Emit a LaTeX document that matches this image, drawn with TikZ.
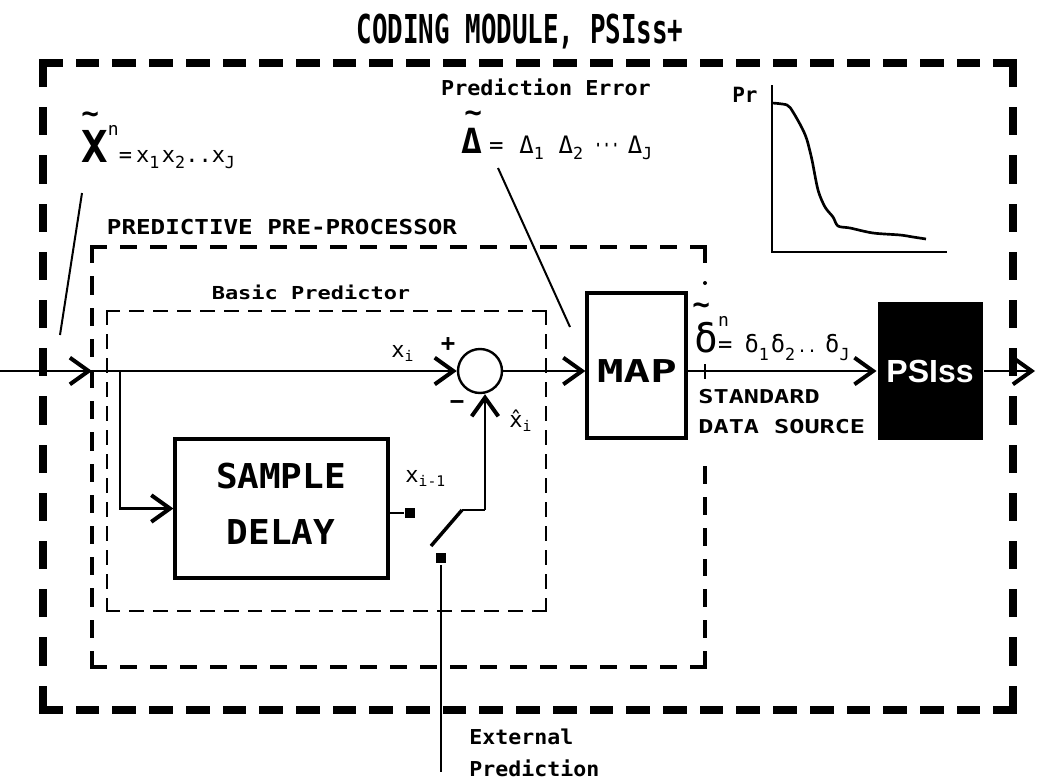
\documentclass[tikz,border=0pt]{standalone}
\usepackage{fontspec}
\usepackage{graphicx}
\setmainfont{DejaVu Sans Mono}
\newfontfamily\lsans{Liberation Sans}
\usetikzlibrary{arrows.meta}
\newcommand{\myfs}[1]{\fontsize{#1}{#1}\selectfont}
\newcommand{\sx}[2]{\scalebox{#1}[1]{#2}}
\newcommand{\sbs}[2][-4.5pt]{\raisebox{#1}{\myfs{12.5}#2}}
\newcommand{\tld}[2]{\makebox[0pt][l]{\hspace{#1}\raisebox{#2}{\bfseries\myfs{22}\textasciitilde}}}
\begin{document}
\begin{tikzpicture}[x=0.75pt,y=-0.75pt,line width=2.2pt,
  arr/.style={-{Straight Barb[length=14pt,width=20pt,line width=3pt]}},
  box/.style={draw,line width=2.4pt,inner sep=0pt},
  outerh/.style={line width=6pt,line cap=rect,dash pattern=on 11.78pt off 15.75pt},
  outerv/.style={line width=6pt,line cap=rect,dash pattern=on 15.15pt off 21pt},
  preh/.style={line width=2.6pt,line cap=rect,dash pattern=on 10.1pt off 12.4pt},
  prev/.style={line width=2.6pt,line cap=rect,dash pattern=on 11pt off 12.4pt},
  prer/.style={line width=2.6pt,line cap=rect,dash pattern=on 10.7pt off 12.4pt},
  basich/.style={line width=1.9pt,line cap=rect,dash pattern=on 9.15pt off 8.6pt},
  basicv/.style={line width=1.9pt,line cap=rect,dash pattern=on 9.4pt off 8.6pt},
  sqn/.style={fill,inner sep=0pt,minimum width=7pt,minimum height=8pt},
  lbl/.style={inner sep=0pt},
  thinln/.style={line width=1.5pt}]
\fill[white] (0,0) rectangle (1040,782);
\useasboundingbox (0,0) rectangle (1040,782);

% title
\node[lbl,font=\bfseries\myfs{29.85}] (title) at (520,32) {\sx{0.65}{CODING MODULE, PSIss+}};

% outer frame
\coordinate (o1) at (43,63);
\coordinate (o2) at (1013,63);
\coordinate (o3) at (1013,710);
\coordinate (o4) at (43,710);
\draw[outerh] (o1) -- (o2);
\draw[outerh] (o4) -- (o3);
\draw[outerv] (o1) -- (o4);
\draw[outerv] (o2) -- (o3);

% pre-processor frame
\coordinate (p1) at (92,247);
\coordinate (p2) at (705,247);
\coordinate (p3) at (705,667);
\coordinate (p4) at (92,667);
\draw[preh] (p1) -- (p2);
\draw[preh] (p4) -- (p3);
\draw[prev] (p1) -- (p4);
\draw[prer] (p2) -- (705,263);
\draw[prer] (p3) -- (705,468);
\fill (705,283) circle (1.5pt);
\draw[line width=2pt] (705,364) -- (705,379);

% basic predictor frame
\coordinate (b1) at (107,311);
\coordinate (b2) at (546,311);
\coordinate (b3) at (546,611);
\coordinate (b4) at (107,611);
\draw[basich] (b1) -- (b2);
\draw[basich] (b4) -- (b3);
\draw[basicv] (b1) -- (b4);
\draw[basicv] (b2) -- (b3);

% frame labels
\node[lbl,font=\bfseries\myfs{15.4}] (ppp) at (282,227) {\sx{1.18}{PREDICTIVE PRE-PROCESSOR}};
\node[lbl,font=\bfseries\myfs{13.4}] (bp) at (311,292) {\sx{1.23}{Basic Predictor}};
\node[lbl,font=\bfseries\myfs{15.4}] (pe) at (546,87) {\sx{1.06}{Prediction Error}};

% blocks
\node[box,minimum width=213*0.75pt,minimum height=139*0.75pt] (delay) at (281.5,508.5) {};
\node[lbl,font=\bfseries\myfs{25.7}] (samp) at (281,476) {\sx{1.05}{SAMPLE}};
\node[lbl,font=\bfseries\myfs{25.7}] (dly) at (281,532) {\sx{1.05}{DELAY}};
\node[draw,circle,line width=1.8pt,minimum size=44*0.75pt,inner sep=0pt] (sum) at (480,371) {};
\node[box,minimum width=99*0.75pt,minimum height=145*0.75pt] (map) at (636.5,365.5) {};
\node[lbl,font=\bfseries\myfs{23.6}] (maptxt) at (637,371) {\sx{1.4}{MAP}};
\node[fill=black,inner sep=0pt,minimum width=105*0.75pt,minimum height=138*0.75pt] (psi) at (930.5,371) {};
\node[lbl,text=white,font=\lsans\bfseries\myfs{24}] (psitxt) at (930,371) {PSIss};

% connectors
\coordinate (in) at (0,371);
\coordinate (pl) at (92,371);
\coordinate (br) at (120,371);
\coordinate (out) at (1035,371);
\draw[arr] (in) -- (pl);
\draw[arr] (pl) -- (sum.west);
\draw[arr] (br) |- (delay.west);
\draw[arr] (sum.east) -- (sum.east -| map.west);
\draw[arr] (map.east |- sum) -- (psi.west);
\draw[arr] (psi.east) -- (out);

% switch
\node[sqn] (s1) at (410,513) {};
\draw (delay.east |- s1) -- (s1.west);
\coordinate (sw1) at (431,546);
\coordinate (sw2) at (462,510);
\coordinate (sw3) at (485,510);
\draw[line width=2.6pt] (sw1) -- (sw2);
\draw (sw2) -- (sw3);
\draw[arr] (sw3) -- (sum.south -| sw3);
\node[sqn] (s2) at (441,558) {};
\coordinate (ext) at (441,772);
\draw (s2.south) -- (ext);
\node[lbl,font=\bfseries\myfs{15.4},anchor=west] (ext1) at (468,737) {\sx{1.05}{External}};
\node[lbl,font=\bfseries\myfs{15.4},anchor=west] (ext2) at (468,768) {\sx{1.05}{Prediction}};

% signal labels
\node[lbl,anchor=base west,font=\myfs{16.5}] (xi) at (390,357) {x\raisebox{-3pt}{\myfs{11}i}};
\node[lbl,font=\bfseries\myfs{18}] (plus) at (448,345) {+};
\node[lbl,font=\bfseries\myfs{18}] (minus) at (457,405) {−};
\node[lbl,anchor=base west,font=\myfs{16.5}] (xh) at (508,427) {\^{x}\raisebox{-3pt}{\myfs{11}i}};
\node[lbl,anchor=base west,font=\myfs{16.5}] (xim) at (404,482) {x\raisebox{-3pt}{\myfs{11}i-1}};

% sequence X
\node[lbl,anchor=base west] (fx) at (80,162) {\tld{0pt}{29.25pt}{\bfseries\myfs{33}X}\raisebox{20pt}{\myfs{13.5}n}{\myfs{16.5}=\hspace{3pt}x\sbs{1}\hspace{2pt}x\sbs{2}..x\sbs{J}}};
\coordinate (lx1) at (82,193);
\coordinate (lx2) at (60,335);
\draw[thinln] (lx1) -- (lx2);

% sequence Delta
\node[lbl,anchor=base west] (fd) at (460,153) {\tld{2.25pt}{23pt}{\bfseries\myfs{26}Δ}\hspace{5pt}{\myfs{18}=\hspace{12pt}Δ\sbs[-5pt]{1}\hspace{11pt}Δ\sbs[-5pt]{2}\hspace{8pt}\sx{0.6}{···}\hspace{6pt}Δ\sbs[-5pt]{J}}};
\coordinate (ld1) at (498,168);
\coordinate (ld2) at (570,327);
\draw[thinln] (ld1) -- (ld2);

% sequence delta
\node[lbl,anchor=base west] (fdl) at (693,352) {\tld{-1.5pt}{28.5pt}{\myfs{29.6}δ}\makebox[0pt][l]{\raisebox{19pt}{\myfs{13.5}n}}{\myfs{17.8}=\hspace{9pt}δ\sbs[-6pt]{1}\hspace{1.5pt}δ\sbs[-6pt]{2}\hspace{1.5pt}{\myfs{12.5}..}\hspace{6pt}δ\sbs[-6pt]{J}}};

% labels under output
\node[lbl,font=\bfseries\myfs{14.3},anchor=west] (std) at (697,397) {\sx{1.32}{STANDARD}};
\node[lbl,font=\bfseries\myfs{14.3},anchor=west] (dsrc) at (697,427) {\sx{1.32}{DATA SOURCE}};

% distribution chart
\node[lbl,font=\bfseries\myfs{15.75},anchor=east] (pr) at (759,95) {Pr};
\draw[line width=1.8pt] (772,85) -- (772,252) -- (947,252);
\draw[line width=2pt] plot[smooth] coordinates {(772,103) (787,105) (793,112) (802,128) (807,140) (812,160) (818,190) (825,207) (833,217) (838,226) (850,228) (873,233) (900,235) (913,237) (926,239)};
\end{tikzpicture}
\end{document}
